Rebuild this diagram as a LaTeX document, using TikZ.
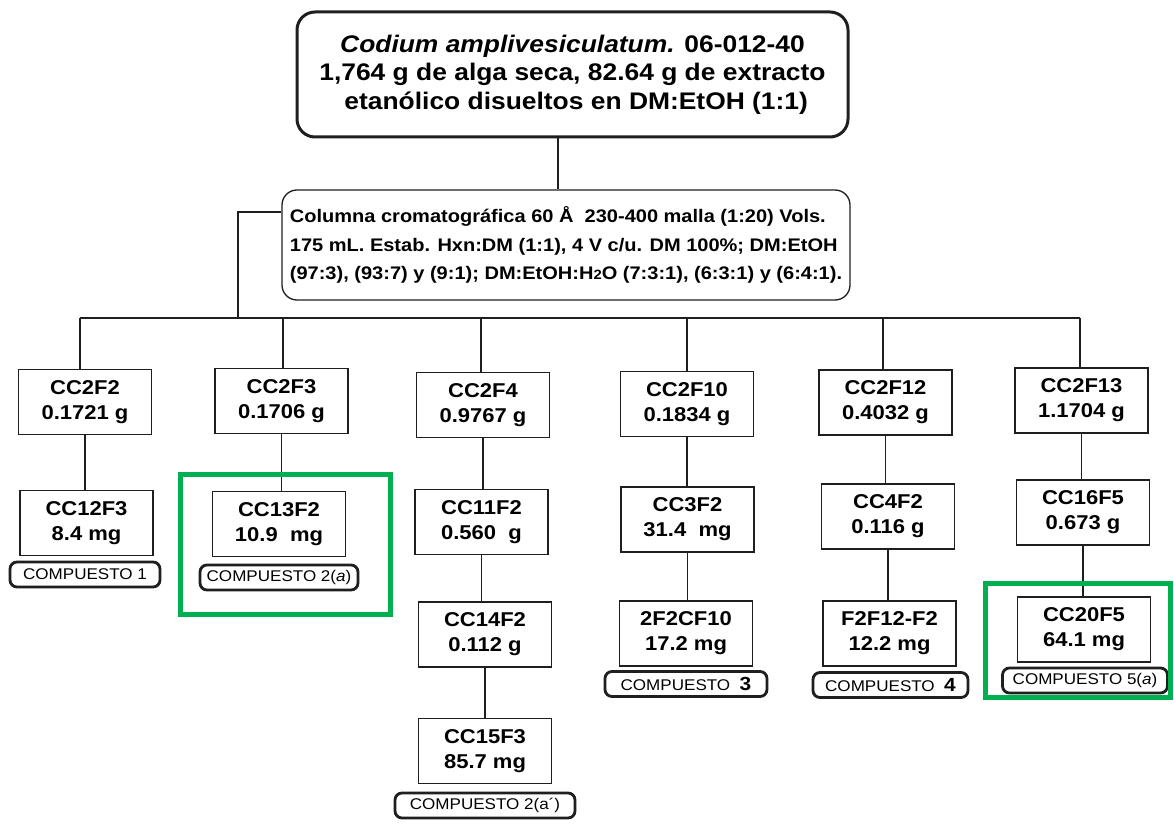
\documentclass[tikz,border=0pt]{standalone}
\usepackage{fontspec}
\setmainfont{Liberation Sans}[FakeStretch=1.1]
\begin{document}
\begin{tikzpicture}[x=1pt,y=-1pt,
  lc/.style={draw=black!88},
  fbox/.style={lc,line width=1.2,minimum width=133,minimum height=65,inner sep=0,align=center,font=\fontsize{20}{25}\selectfont\bfseries},
  cbox/.style={lc,line width=2.8,rounded corners=7,minimum height=25,inner sep=0,font=\fontsize{15.5}{16}\selectfont},
  gbox/.style={draw=gcol,line width=5},
  conn/.style={lc,line width=1.2},
  tconn/.style={lc,line width=2.8}]
\definecolor{gcol}{RGB}{0,176,80}
\useasboundingbox[fill=white] (0,0) rectangle (1174,826);

% top box
\node[lc,line width=3,rounded corners=18,minimum width=551,minimum height=125,inner sep=0,align=center,
  font=\fontsize{24}{28.5}\selectfont\bfseries] (top) at (572.5,74.5)
  {\textit{Codium amplivesiculatum.} 06-012-40\\1,764 g de alga seca, 82.64 g de extracto\\ \ etanólico disueltos en DM:EtOH (1:1)};

% column box
\node[lc,line width=1.3,rounded corners=15,minimum width=568,minimum height=110,inner sep=0,align=left,
  font=\fontsize{18.2}{28.5}\selectfont\bfseries] (col) at (566,245)
  {Columna cromatográfica 60 Å\ \ 230-400 malla (1:20) Vols.\\
   175 mL. Estab. Hxn:DM (1:1), 4 V c/u. DM 100\%; DM:EtOH\\
   (97:3), (93:7) y (9:1); DM:EtOH:H{\fontsize{13.5}{13.5}\selectfont 2}O (7:3:1), (6:3:1) y (6:4:1).};

\draw[tconn] (top.south -| 558,0) -- (col.north -| 558,0);

% bus
\coordinate (lb) at (238,212);
\coordinate (t1) at (80,318);
\coordinate (t2) at (283,318);
\coordinate (t3) at (481,318);
\coordinate (t4) at (687,318);
\coordinate (t5) at (883,318);
\coordinate (t6) at (1080,318);
\draw[tconn] (col.west |- lb) -- (lb) -- (lb |- t1);
\draw[conn] (t1) -- (t6);

% row 1
\node[fbox] (b11) at (85,402) {CC2F2\\0.1721 g};
\node[fbox] (b21) at (281.5,401) {CC2F3\\0.1706 g};
\node[fbox] (b31) at (483,405) {CC2F4\\0.9767 g};
\node[fbox] (b41) at (687,404) {CC2F10\\0.1834 g};
\node[fbox] (b51) at (885.5,402.5) {CC2F12\\0.4032 g};
\node[fbox] (b61) at (1081.5,400.5) {CC2F13\\1.1704 g};
% row 2
\node[fbox] (b12) at (86.5,523) {CC12F3\\8.4 mg};
\node[fbox] (b22) at (279,524) {CC13F2\\10.9\ \ mg};
\node[fbox] (b32) at (481.5,522) {CC11F2\\0.560\ \ g};
\node[fbox] (b42) at (687.5,519.5) {CC3F2\\31.4\ \ mg};
\node[fbox] (b52) at (888,516.5) {CC4F2\\0.116 g};
\node[fbox] (b62) at (1083,512.5) {CC16F5\\0.673 g};
% row 3
\node[fbox] (b33) at (485,634.5) {CC14F2\\0.112 g};
\node[fbox] (b43) at (686,633.5) {2F2CF10\\17.2 mg};
\node[fbox] (b53) at (889.5,633.5) {F2F12-F2\\12.2 mg};
\node[fbox] (b63) at (1084,629.5) {CC20F5\\64.1 mg};
% row 4
\node[fbox] (b34) at (485,751) {CC15F3\\85.7 mg};

% connectors
\foreach \c/\b in {t1/b11,t2/b21,t3/b31,t4/b41,t5/b51,t6/b61}
  \draw[conn] (\c) -- (\c |- \b.north);
\foreach \a/\b in {b11/b12,b21/b22,b31/b32,b32/b33,b33/b34,b41/b42,b42/b43,b51/b52,b52/b53,b61/b62,b62/b63}
  \draw[conn] (\a.south) -- (\a.south |- \b.north);

% compound labels
\node[cbox,minimum width=150] (c1) at (85,574.5) {COMPUESTO 1};
\node[cbox,minimum width=158] (c2) at (279,577.5) {COMPUESTO 2(\textit{a})};
\node[cbox,minimum width=162] (c3) at (686,684) {COMPUESTO\ \ {\fontsize{19}{19}\selectfont\bfseries 3}};
\node[cbox,minimum width=155] (c4) at (890.5,685) {COMPUESTO\ \ {\fontsize{19}{19}\selectfont\bfseries 4}};
\node[cbox,minimum width=165] (c5) at (1085,680.5) {COMPUESTO 5(\textit{a})};
\node[cbox,minimum width=180] (c6) at (485,805.5) {COMPUESTO 2(a´)};

% green highlight frames
\draw[gbox] (180,474) rectangle (390,614);
\draw[gbox] (985,583) rectangle (1170,697);
\end{tikzpicture}
\end{document}
